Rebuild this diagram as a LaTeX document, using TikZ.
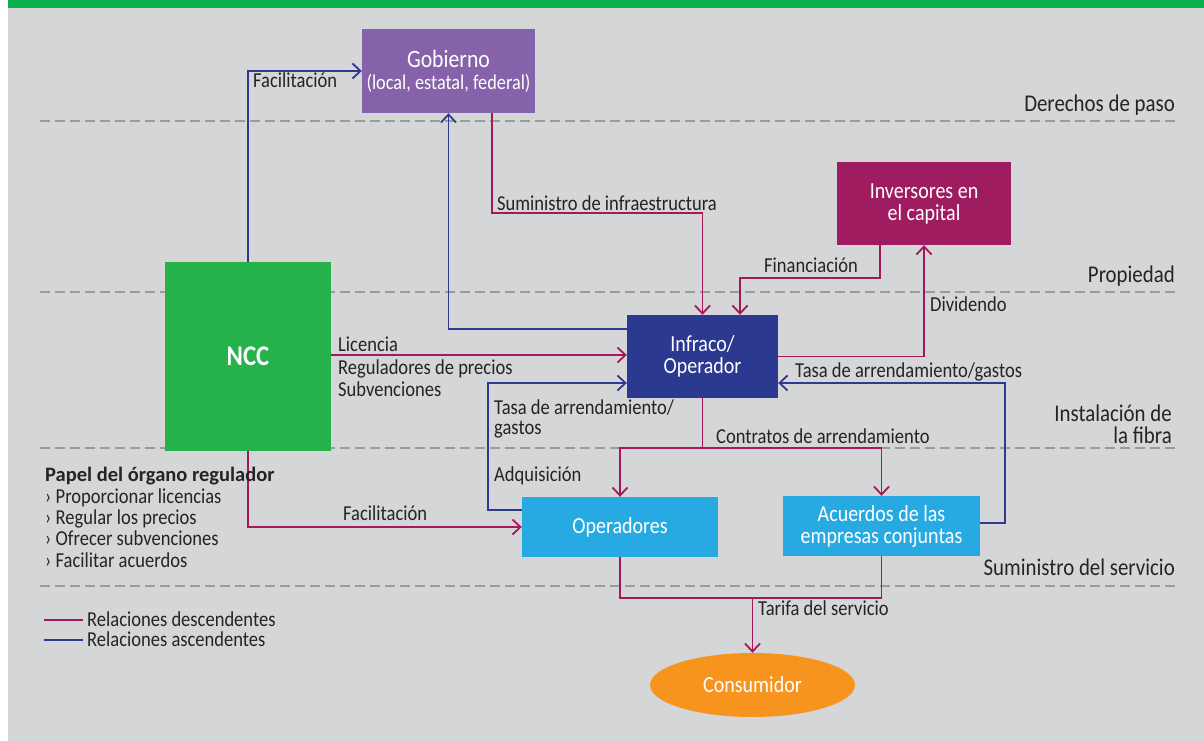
\documentclass[tikz,border=0pt]{standalone}
\usepackage{fontspec}
\setmainfont{Carlito}[FakeStretch=0.87]
\newfontfamily\widefam{Carlito}
\usetikzlibrary{arrows.meta,shapes.geometric}
\definecolor{bgc}{HTML}{D5D6D8}
\definecolor{topbar}{HTML}{0BB14D}
\definecolor{gobc}{HTML}{8562A9}
\definecolor{invc}{HTML}{9E1C5F}
\definecolor{nccc}{HTML}{25B24B}
\definecolor{infc}{HTML}{2B3990}
\definecolor{opc}{HTML}{27AAE1}
\definecolor{conc}{HTML}{F7941D}
\definecolor{magc}{HTML}{A3195B}
\definecolor{bluc}{HTML}{2E3A90}
\definecolor{txtc}{HTML}{262324}
\definecolor{sepc}{HTML}{9B9B9B}
\begin{document}
\begin{tikzpicture}[x=1pt,y=-1pt,
  box/.style={inner sep=0pt, align=center, text=white, font=\fontsize{23}{22}\selectfont},
  lbl/.style={anchor=base west, inner sep=0pt, text=txtc, font=\fontsize{21.3}{22}\selectfont},
  rlbl/.style={anchor=base east, inner sep=0pt, text=txtc, align=right, font=\fontsize{24}{21.5}\selectfont},
  dn/.style={draw=magc, line width=1.8pt},
  upl/.style={draw=bluc, line width=1.8pt},
  arr/.style={-{Straight Barb[length=8pt,width=15pt]}},
  sepline/.style={draw=sepc, line width=1.3pt, dash pattern=on 10pt off 5pt}]
\useasboundingbox (0,0) rectangle (1204,741);
\fill[white] (0,0) rectangle (1204,741);
\fill[bgc] (8,8) rectangle (1204,741);
\fill[topbar] (8,0) rectangle (1204,8);
\foreach \yy in {121,292,448,586} \draw[sepline] (40,\yy) -- (1175,\yy);

% boxes
\node[box, fill=gobc, minimum width=173pt, minimum height=84pt] (gob) at (448.5,71)
  {{\fontsize{25}{24}\selectfont Gobierno}\\{\fontsize{21}{24}\selectfont (local, estatal, federal)}};
\node[box, fill=invc, minimum width=174pt, minimum height=83pt] (inv) at (924,203.5) {Inversores en\\el capital};
\node[box, fill=nccc, minimum width=166pt, minimum height=189pt, font=\fontsize{28.5}{30}\selectfont\bfseries] (ncc) at (248,356.5) {NCC};
\node[box, fill=infc, minimum width=151pt, minimum height=83pt] (inf) at (702.5,356.5) {Infraco/\\Operador};
\node[box, fill=opc, minimum width=196pt, minimum height=60pt] (ope) at (620,527) {Operadores};
\node[box, fill=opc, minimum width=197pt, minimum height=60pt] (acu) at (881.5,526) {Acuerdos de las\\empresas conjuntas};
\node[box, ellipse, fill=conc, minimum width=205pt, minimum height=64pt] (con) at (752.5,685) {Consumidor};

% connectors
\draw[upl,arr] (ncc.north) |- (gob.west);
\draw[upl,arr] ([yshift=27.5pt]inf.west) -| (gob.south);
\draw[dn,arr] ([xshift=43.5pt]gob.south) -- ++(0,100) -| (inf.north);
\draw[dn,arr] ([xshift=-44pt]inv.south) -- ++(0,33) -| ([xshift=37.5pt]inf.north);
\draw[dn,arr] (inf.east) -| (inv.south);
\draw[upl,arr] ([yshift=3pt]acu.east) -- ++(24.5,0) |- ([yshift=-26.5pt]inf.east);
\draw[dn,arr] ([yshift=1.5pt]ncc.east) -- ([yshift=1.5pt]inf.west);
\draw[upl,arr] ([yshift=17pt]ope.west) -- ++(-34,0) |- ([yshift=-26.5pt]inf.west);
\draw[dn] (inf.south) -- ++(0,50) coordinate (cj);
\draw[dn,arr] (cj) -| (ope.north);
\draw[dn,arr] (cj) -| (acu.north);
\draw[dn,arr] (ncc.south) |- (ope.west);
\draw[dn] (ope.south) -- ++(0,41) coordinate (bj) -| (acu.south);
\draw[dn,arr] (bj -| con.north) -- (con.north);

% labels
\node[lbl] (l1) at (253,88) {Facilitación};
\node[lbl] (l2) at (497,210) {Suministro de infraestructura};
\node[lbl] (l3) at (764,272) {Financiación};
\node[lbl] (l4) at (930,311) {Dividendo};
\node[lbl] (l5) at (795,377) {Tasa de arrendamiento/gastos};
\node[lbl] (l6) at (338,351) {Licencia};
\node[lbl] (l7) at (338,374) {Reguladores de precios};
\node[lbl] (l8) at (338,396) {Subvenciones};
\node[lbl] (l9) at (494,414) {Tasa de arrendamiento/};
\node[lbl] (l10) at (494,434) {gastos};
\node[lbl] (l11) at (494,481) {Adquisición};
\node[lbl] (l12) at (716,443) {Contratos de arrendamiento};
\node[lbl] (l13) at (343,520) {Facilitación};
\node[lbl] (l14) at (758,615) {Tarifa del servicio};

\node[rlbl] (r1) at (1175,111.5) {Derechos de paso};
\node[rlbl] (r2) at (1175,282) {Propiedad};
\node[rlbl, anchor=north east, text height=17pt] (r3) at (1172,426) {Instalación de\hspace{5pt}\\la fibra};
\node[rlbl] (r5) at (1175,575.5) {Suministro del servicio};

\node[lbl, font=\widefam\fontsize{20.5}{22}\selectfont\bfseries] (p0) at (45,481) {Papel del órgano regulador};
\node[lbl] (p1) at (45,503) {› Proporcionar licencias};
\node[lbl] (p2) at (45,524) {› Regular los precios};
\node[lbl] (p3) at (45,545) {› Ofrecer subvenciones};
\node[lbl] (p4) at (45,567) {› Facilitar acuerdos};

\draw[dn] (44,620) -- (83,620);
\draw[upl] (44,640) -- (83,640);
\node[lbl] (g1) at (87,626) {Relaciones descendentes};
\node[lbl] (g2) at (87,646) {Relaciones ascendentes};
\end{tikzpicture}
\end{document}
